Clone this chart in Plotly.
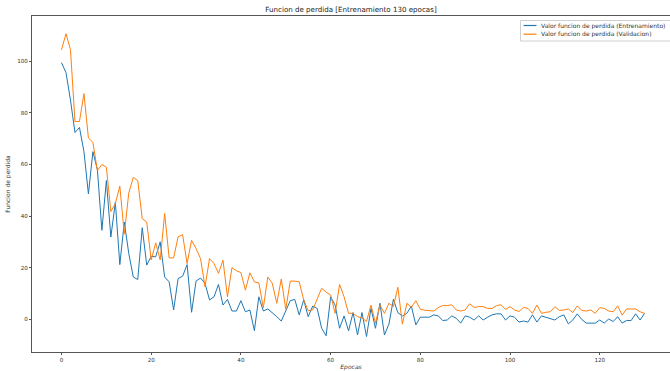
import plotly.graph_objects as go

epochs = list(range(131))

train_loss = [
    99.5, 95.6, 85, 72.4, 74.4, 65, 48.6, 65, 58, 34.5,
    53.8, 31.9, 45.4, 21.2, 37.7, 25.5, 16.4, 15.4, 35.5, 21,
    24.4, 24.2, 30, 16.4, 14.5, 3.6, 15.8, 16.7, 21.2, 2.7,
    14.8, 16, 13.9, 7.5, 8.7, 13.5, 5.5, 7.7, 3.2, 3.2,
    7.2, 2.9, 3.6, -4.4, 8.7, 3.2, 4.0, 2.6, 1.0, -0.7,
    3.2, 7.2, 7.7, 1.7, 7.5, 1.0, 5.1, 4.2, -3.5, -6.4,
    8.7, 5.5, -3.5, 1.3, -4.5, 2.6, -6.1, 2.6, -6.7, 4.2,
    -3.5, 6.2, -6.1, -1.9, 7.8, 2.5, 1.3, 2.3, 5.1, -2.2,
    0.8, 0.8, 0.8, 1.7, 1.3, -0.5, -0.3, 1.3, 0.4, -1.5,
    1.3, 0.8, -0.3, 1.3, -0.3, 0.8, 1.7, 2.1, 2.1, -0.3,
    1.3, 0.8, -1.1, -0.7, -1.1, 1.7, -1.1, 1.3, 0.8, 0.2,
    -0.3, 1.0, 1.7, -1.8, -0.3, 2.1, -0.1, -1.5, -1.5, -1.5,
    -0.3, -1.5, 0.1, -0.9, 1.0, -1.5, -0.5, -0.5, 2.1, -0.3,
    2.3,
]

val_loss = [
    104.5, 110.7, 104.6, 76.7, 76.7, 87.5, 70.3, 68.6, 57.6, 60,
    59, 41.8, 44.8, 51.6, 33, 49, 55, 53.8, 39, 37.7,
    23, 29.6, 23, 41, 23.8, 23.8, 32, 32.8, 21.6, 30.6,
    27.4, 23.5, 12.6, 23.5, 21.6, 17.8, 22.9, 8.7, 20, 18.8,
    18.1, 11.3, 18, 14.5, 14.1, 4.5, 16.4, 13.9, 6.2, 15.6,
    3.9, 14.8, 14.8, 14.5, 7.5, 3.3, 3.6, 8, 12, 10.5,
    9.4, 2.3, 13.5, 8.7, 2.3, 2.3, 1.0, 0.5, -0.9, 5.5,
    -1.5, 5.5, 2.3, 6.2, 4.9, 12.4, -1.9, 6.2, 4.6, 7.2,
    3.9, 3.5, 3.4, 3.2, 4.5, 5.3, 5.3, 5.6, 3.6, 3.2,
    3.6, 6.0, 4.6, 4.9, 4.9, 4.2, 4.2, 5.3, 5.6, 3.8,
    4.9, 3.6, 3.0, 4.6, 4.2, 2.3, 5.5, 2.3, 2.7, 2.9,
    4.9, 3.4, 3.6, 4.0, 2.6, 5.2, 3.4, 3.2, 3.6, 2.3,
    4.5, 4.2, 3.2, 2.9, 5.2, 1.6, 4.0, 3.9, 4.0, 2.9,
    2.3,
]

series_names = [
    "Valor funcion de perdida (Entrenamiento)",
    "Valor funcion de perdida (Validacion)",
]
series_colors = ["#1f77b4", "#ff7f0e"]

x_ticks = [0, 20, 40, 60, 80, 100, 120]
y_ticks = [0, 20, 40, 60, 80, 100]

FONT = "DejaVu Sans"
AXIS_COLOR = "#555555"
TEXT_COLOR = "#333333"

W, H = 670, 371
ML, MT, MB = 32, 16, 19
PW = W - ML
PH = H - MT - MB


def px_x(p):
    return (p - ML) / PW


def px_y(p):
    return 1 - (p - MT) / PH


fig = go.Figure()
for ys, name, color in zip([train_loss, val_loss], series_names, series_colors):
    fig.add_trace(go.Scatter(
        x=epochs, y=ys, mode="lines", name=name,
        line=dict(color=color, width=1),
    ))

# matplotlib-style legend box (its right side runs past the edge as in the reference)
shapes = [dict(
    type="rect", xref="paper", yref="paper",
    x0=px_x(520.5), x1=px_x(700), y0=px_y(41), y1=px_y(20.5),
    line=dict(color="#d0d0d0", width=1), fillcolor="rgba(255,255,255,0.85)",
    layer="above",
)]
annotations = []
row_y = [25.5, 34.2]
for name, color, ry in zip(series_names, series_colors, row_y):
    shapes.append(dict(
        type="line", xref="paper", yref="paper",
        x0=px_x(523.5), x1=px_x(536.5), y0=px_y(ry), y1=px_y(ry),
        line=dict(color=color, width=1.2), layer="above",
    ))
    annotations.append(dict(
        xref="paper", yref="paper", x=px_x(539), y=px_y(ry),
        xanchor="left", yanchor="middle", showarrow=False,
        text=name, font=dict(family=FONT, size=6.0, color=TEXT_COLOR),
    ))

fig.update_layout(
    width=W, height=H,
    margin=dict(l=ML, r=0, t=MT, b=MB),
    paper_bgcolor="white", plot_bgcolor="white",
    font=dict(family=FONT, size=6, color=TEXT_COLOR),
    title=dict(
        text="Funcion de perdida [Entrenamiento 130 epocas]",
        x=0.5, xref="paper", xanchor="center",
        y=1 - 9.5 / H, yref="container", yanchor="middle",
        font=dict(family=FONT, size=7.1, color="#222222"),
    ),
    showlegend=False,
    shapes=shapes,
    annotations=annotations,
)

fig.update_xaxes(
    range=[-6.58, 135.67],
    tickvals=x_ticks,
    showgrid=False, zeroline=False, automargin=False,
    showline=True, linecolor=AXIS_COLOR, linewidth=1, mirror=True,
    ticks="outside", ticklen=2, tickcolor=AXIS_COLOR, tickwidth=1,
    tickfont=dict(family=FONT, size=5.6, color=TEXT_COLOR),
    title=dict(text="<i>Epocas</i>", standoff=3,
               font=dict(family=FONT, size=6, color=TEXT_COLOR)),
)
fig.update_yaxes(
    range=[-12.7, 117.6],
    tickvals=y_ticks,
    showgrid=False, zeroline=False, automargin=False,
    showline=True, linecolor=AXIS_COLOR, linewidth=1, mirror=False,
    ticks="outside", ticklen=2, tickcolor=AXIS_COLOR, tickwidth=1,
    tickfont=dict(family=FONT, size=5.6, color=TEXT_COLOR),
    title=dict(text="Funcion de perdida", standoff=6,
               font=dict(family=FONT, size=6, color=TEXT_COLOR)),
)

fig.write_html(
    "out.html",
    config={"displayModeBar": False},
    post_script="document.body.style.margin='0';document.body.style.overflow='hidden';",
)
